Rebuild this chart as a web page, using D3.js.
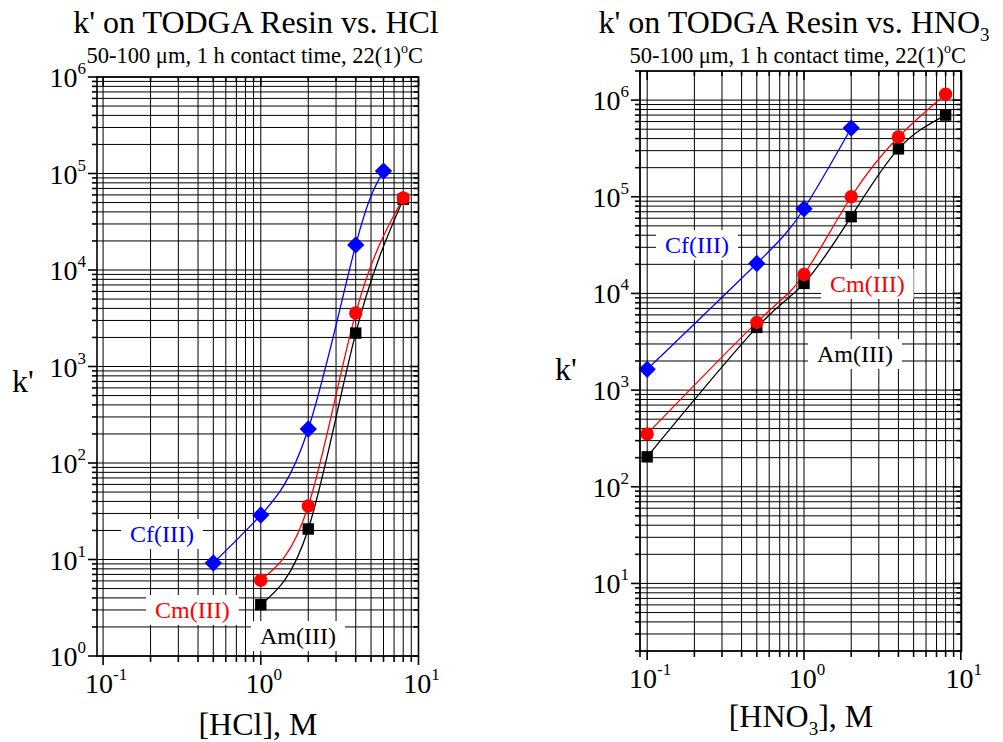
<!DOCTYPE html>
<html><head><meta charset="utf-8">
<script src="https://cdn.jsdelivr.net/npm/d3@7"></script>
<style>body{margin:0;background:#fff}svg{display:block}text{font-family:"Liberation Serif",serif}</style>
</head><body>
<svg id="c" width="1003" height="742"></svg>
<script>
// ---- Data ----
const seriesNames = ["Cf(III)", "Cm(III)", "Am(III)"];
const seriesColors = ["#0000ff", "#ff0000", "#000000"];

// HCl panel
const hclConcCf = [0.5, 1, 2, 4, 6];
const hclCf = [9.2, 28.9, 225, 18200, 106000];
const hclConcCmAm = [1, 2, 4, 8];
const hclCm = [6.1, 35.8, 3580, 55700];
const hclAm = [3.4, 20.7, 2220, 54000];

// HNO3 panel
const hno3ConcCf = [0.1, 0.5, 1, 2];
const hno3Cf = [1640, 20400, 75200, 514000];
const hno3ConcCmAm = [0.1, 0.5, 1, 2, 4, 8];
const hno3Cm = [352, 5020, 15700, 100000, 416000, 1150000];
const hno3Am = [204, 4450, 12700, 62200, 313000, 700000];

// tick labels (exponents of 10)
const hclYTickExp = [0, 1, 2, 3, 4, 5, 6];
const hno3YTickExp = [1, 2, 3, 4, 5, 6];
const xTickExp = [-1, 0, 1];

const svg = d3.select("#c");

function drawPanel(o) {
  const x = d3.scaleLog().domain(o.xDomain).range([o.left, o.right]);
  const y = d3.scaleLog().domain(o.yDomain).range([o.bottom, o.top]);
  const g = svg.append("g");

  // grid values
  const xs = [], ys = [];
  for (let d = -2; d <= 1; d++) for (let m = 1; m <= 9; m++) {
    const v = m * Math.pow(10, d);
    if (v >= o.xDomain[0] * 0.9999 && v <= o.xDomain[1] * 1.0001) xs.push({v, major: m === 1});
  }
  for (let d = 0; d <= 6; d++) for (let m = 1; m <= 9; m++) {
    const v = m * Math.pow(10, d);
    if (v >= o.yDomain[0] * 0.9999 && v <= o.yDomain[1] * 1.0001) ys.push({v, major: m === 1});
  }
  g.selectAll(".gx").data(xs).join("line")
    .attr("x1", d => x(d.v)).attr("x2", d => x(d.v))
    .attr("y1", o.top).attr("y2", o.bottom)
    .attr("stroke", "#000").attr("stroke-width", 1);
  g.selectAll(".gy").data(ys).join("line")
    .attr("y1", d => y(d.v)).attr("y2", d => y(d.v))
    .attr("x1", o.left).attr("x2", o.right)
    .attr("stroke", "#000").attr("stroke-width", 1);

  // label boxes
  o.labels.forEach(l => {
    const t = g.append("text").attr("x", l.x).attr("y", l.y)
      .attr("font-size", 24).attr("fill", l.color).text(l.text);
    const bb = t.node().getBBox();
    g.insert("rect", () => t.node())
      .attr("x", bb.x - 9).attr("y", bb.y - 2)
      .attr("width", bb.width + 18).attr("height", bb.height + 4)
      .attr("fill", "#fff");
  });

  // curves + markers
  const line = d3.line().x(d => x(d[0])).y(d => y(d[1])).curve(d3.curveNatural);
  o.series.forEach(s => {
    const pts = s.xs.map((c, i) => [c, s.ys[i]]);
    g.append("path").attr("d", line(pts)).attr("fill", "none")
      .attr("stroke", s.color).attr("stroke-width", 1.3);
  });
  o.series.forEach(s => {
    const pts = s.xs.map((c, i) => [c, s.ys[i]]);
    const type = s.shape === "circle" ? d3.symbolCircle : d3.symbolSquare;
    const size = s.shape === "diamond" ? 150 : s.shape === "circle" ? 140 : 130;
    g.selectAll(null).data(pts).join("path")
      .attr("d", d3.symbol().type(type).size(size))
      .attr("transform", d => `translate(${x(d[0])},${y(d[1])})` + (s.shape === "diamond" ? " rotate(45)" : ""))
      .attr("fill", s.color);
  });

  // frame
  g.append("rect").attr("x", o.left).attr("y", o.top)
    .attr("width", o.right - o.left).attr("height", o.bottom - o.top)
    .attr("fill", "none").attr("stroke", "#000").attr("stroke-width", 1.6);

  // ticks: left/bottom outward, right/top inward
  g.selectAll(null).data(ys).join("line")
    .attr("x1", o.left).attr("x2", d => o.left - (d.major ? 9 : 5))
    .attr("y1", d => y(d.v)).attr("y2", d => y(d.v))
    .attr("stroke", "#000").attr("stroke-width", 1.6);
  g.selectAll(null).data(ys).join("line")
    .attr("x1", o.right).attr("x2", d => o.right - (d.major ? 9 : 5))
    .attr("y1", d => y(d.v)).attr("y2", d => y(d.v))
    .attr("stroke", "#000").attr("stroke-width", 1.6);
  g.selectAll(null).data(xs).join("line")
    .attr("y1", o.bottom).attr("y2", d => o.bottom + (d.major ? 9 : 6))
    .attr("x1", d => x(d.v)).attr("x2", d => x(d.v))
    .attr("stroke", "#000").attr("stroke-width", 1.6);
  g.selectAll(null).data(xs).join("line")
    .attr("y1", o.top).attr("y2", d => o.top + (d.major ? 9 : 5))
    .attr("x1", d => x(d.v)).attr("x2", d => x(d.v))
    .attr("stroke", "#000").attr("stroke-width", 1.6);

  // y tick labels
  o.yTickExp.forEach(e => {
    const t = g.append("text").attr("x", o.left - 11).attr("y", y(Math.pow(10, e)) + 10)
      .attr("text-anchor", "end").attr("font-size", 28);
    t.append("tspan").text("10");
    t.append("tspan").attr("dy", -13).attr("font-size", 17).text(e);
  });
  // x tick labels
  xTickExp.forEach(e => {
    const t = g.append("text").attr("x", x(Math.pow(10, e)) + 3).attr("y", o.bottom + 37)
      .attr("text-anchor", "middle").attr("font-size", 28);
    t.append("tspan").text("10");
    t.append("tspan").attr("dy", -13).attr("font-size", 17).text(e);
  });

  const cx = (o.left + o.right) / 2;
  // title
  const tt = svg.append("text").attr("x", o.titleX).attr("y", 33)
    .attr("text-anchor", "middle").attr("font-size", 32);
  tt.append("tspan").text(o.title);
  if (o.titleSub) tt.append("tspan").attr("dy", 8).attr("font-size", 19).text(o.titleSub);
  const st = svg.append("text").attr("x", cx - 3).attr("y", 63)
    .attr("text-anchor", "middle").attr("font-size", 22.5);
  st.append("tspan").text("50-100 \u03bcm, 1 h contact time, 22(1)");
  st.append("tspan").attr("dy", -10).attr("font-size", 14).text("o");
  st.append("tspan").attr("dy", 10).text("C");

  // axis titles
  const xt = svg.append("text").attr("x", o.xTitleX).attr("y", o.xTitleY)
    .attr("text-anchor", "middle").attr("font-size", 32);
  xt.append("tspan").text(o.xTitle[0]);
  if (o.xTitle.length > 1) {
    xt.append("tspan").attr("dy", 8).attr("font-size", 19).text(o.xTitle[1]);
    xt.append("tspan").attr("dy", -8).text(o.xTitle[2]);
  }
  svg.append("text").attr("x", o.yTitleX).attr("y", o.yTitleY)
    .attr("font-size", 32).text("k'");
}

drawPanel({
  left: 97, right: 418.5, top: 77, bottom: 656,
  xDomain: [0.0915, 10], yDomain: [1, 1e6],
  yTickExp: hclYTickExp,
  title: "k' on TODGA Resin vs. HCl", titleX: 256,
  xTitle: ["[HCl], M"], xTitleX: 258, xTitleY: 735,
  yTitleX: 12, yTitleY: 392,
  series: [
    {xs: hclConcCf, ys: hclCf, color: seriesColors[0], shape: "diamond"},
    {xs: hclConcCmAm, ys: hclAm, color: seriesColors[2], shape: "square"},
    {xs: hclConcCmAm, ys: hclCm, color: seriesColors[1], shape: "circle"}
  ],
  labels: [
    {text: seriesNames[0], x: 130, y: 542, color: seriesColors[0]},
    {text: seriesNames[1], x: 155, y: 618, color: seriesColors[1]},
    {text: seriesNames[2], x: 260, y: 644, color: seriesColors[2]}
  ]
});

drawPanel({
  left: 640, right: 961.5, top: 71, bottom: 651,
  xDomain: [0.09, 10.1], yDomain: [2, 2e6],
  yTickExp: hno3YTickExp,
  title: "k' on TODGA Resin vs. HNO", titleSub: "3", titleX: 794,
  xTitle: ["[HNO", "3", "], M"], xTitleX: 801, xTitleY: 727,
  yTitleX: 555, yTitleY: 380,
  series: [
    {xs: hno3ConcCf, ys: hno3Cf, color: seriesColors[0], shape: "diamond"},
    {xs: hno3ConcCmAm, ys: hno3Am, color: seriesColors[2], shape: "square"},
    {xs: hno3ConcCmAm, ys: hno3Cm, color: seriesColors[1], shape: "circle"}
  ],
  labels: [
    {text: seriesNames[0], x: 665, y: 253, color: seriesColors[0]},
    {text: seriesNames[1], x: 830, y: 292, color: seriesColors[1]},
    {text: seriesNames[2], x: 817, y: 362, color: seriesColors[2]}
  ]
});
</script>
</body></html>
